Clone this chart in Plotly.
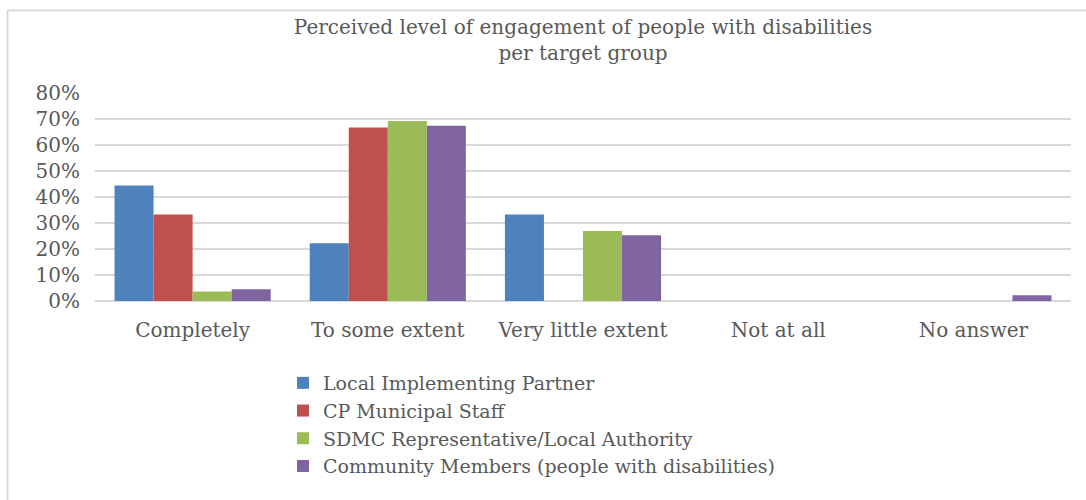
import plotly.graph_objects as go

categories = ["Completely", "To some extent", "Very little extent", "Not at all", "No answer"]
series_names = [
    "Local Implementing Partner",
    "CP Municipal Staff",
    "SDMC Representative/Local Authority",
    "Community Members (people with disabilities)",
]
local_partner = [0.444, 0.222, 0.333, 0.0, 0.0]
cp_staff = [0.333, 0.667, 0.0, 0.0, 0.0]
sdmc = [0.037, 0.692, 0.269, 0.0, 0.0]
community = [0.045, 0.674, 0.253, 0.0, 0.022]
colors = ["#4F81BD", "#C0504D", "#9BBB59", "#8064A2"]
y_ticks = [0, 0.1, 0.2, 0.3, 0.4, 0.5, 0.6, 0.7, 0.8]

FONT = "DejaVu Serif"
TXT = "#595959"

fig = go.Figure()
for i, (name, vals) in enumerate(zip(series_names, [local_partner, cp_staff, sdmc, community])):
    fig.add_trace(go.Bar(
        x=categories, y=vals, name=name,
        marker=dict(color=colors[i], line=dict(width=0)),
    ))

fig.update_layout(
    width=1086, height=500,
    margin=dict(l=95, r=15, t=93, b=199, autoexpand=False),
    paper_bgcolor="white", plot_bgcolor="white",
    barmode="group", bargap=0.2, bargroupgap=0,
    font=dict(family=FONT, color=TXT, size=19),
    title=dict(
        text="Perceived level of engagement of people with disabilities<br>per target group",
        x=0.5, xref="paper", y=0.932, yref="container", yanchor="top",
        font=dict(family=FONT, size=20, color=TXT),
    ),
    xaxis=dict(showgrid=False, showline=False, ticks="", ticklabelstandoff=15,
               tickfont=dict(family=FONT, size=20, color=TXT)),
    yaxis=dict(range=[0, 0.8], tickvals=y_ticks, tickformat=".0%",
               showgrid=True, gridcolor="#D9D9D9", gridwidth=1.5,
               zeroline=True, zerolinecolor="#D9D9D9", zerolinewidth=1.5,
               showline=False, ticks="", ticklabelstandoff=14,
               tickfont=dict(family=FONT, size=20, color=TXT)),
    legend=dict(
        x=(283 - 95) / 976, xref="paper", xanchor="left",
        y=-(364 - 301) / 208, yanchor="top",
        orientation="v", tracegroupgap=0,
        font=dict(family=FONT, size=19, color=TXT),
        itemwidth=30,
    ),
    showlegend=True,
)

# Outer frame lines (left and top)
top_y = (301 - 10.5) / 208
left_x = -(95 - 7.5) / 976
fig.add_shape(type="line", xref="paper", yref="paper",
              x0=left_x, x1=1.1, y0=top_y, y1=top_y,
              line=dict(color="#D9D9D9", width=2))
fig.add_shape(type="line", xref="paper", yref="paper",
              x0=left_x, x1=left_x, y0=top_y, y1=-2,
              line=dict(color="#D9D9D9", width=2))

fig.write_html("out.html")
